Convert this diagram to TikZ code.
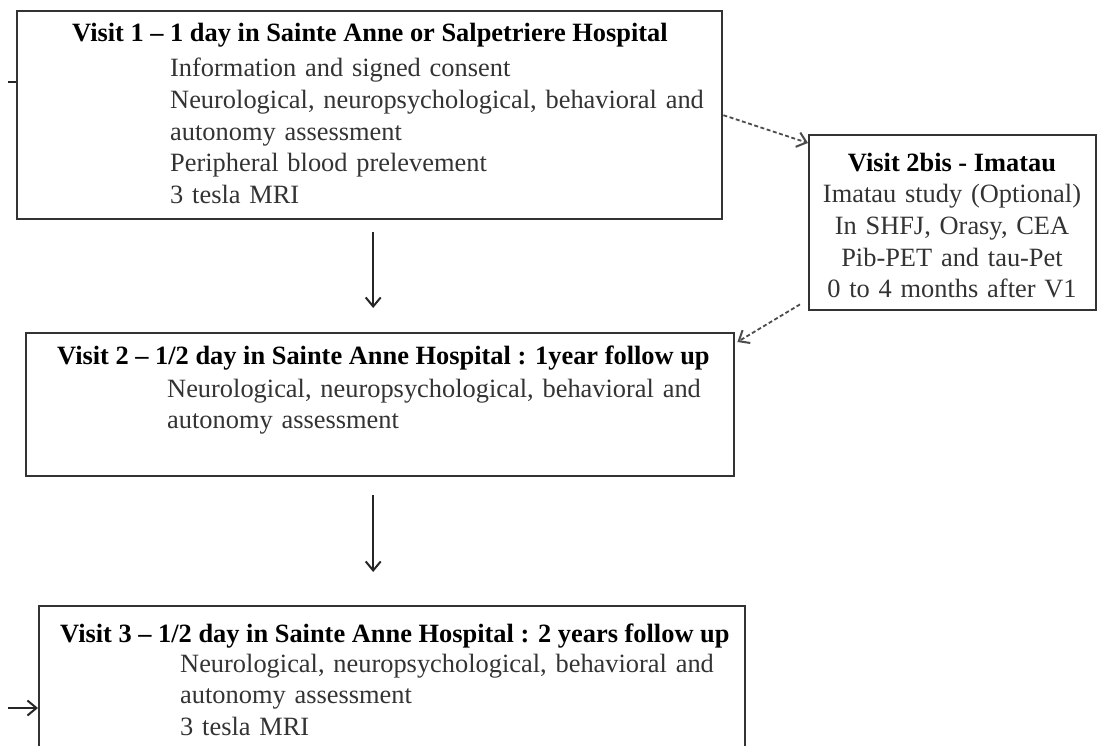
\documentclass[tikz,border=0pt]{standalone}
\usepackage{fontspec}
\setmainfont{Liberation Serif}
\usetikzlibrary{arrows.meta}
\tikzset{
  visitbox/.style={draw=black!80, line width=2.4pt, anchor=north west, inner sep=0pt},
  titleS/.style  ={anchor=base west, inner sep=0pt, font=\fontsize{26.4}{31.6}\selectfont\bfseries},
  bodyS/.style   ={anchor=base west, inner sep=0pt, text width=#1, align=left, text=black!80,
                   font=\fontsize{26.4}{31.6}\selectfont},
  flow/.style    ={draw=black!85, line width=2pt, -{Straight Barb[length=9pt,width=15pt,line width=2pt]}},
  optflow/.style ={flow, draw=black!70, line width=1.8pt, dash pattern=on 4pt off 2.5pt},
}
\begin{document}
\begin{tikzpicture}[x=1pt,y=-1pt]
  \useasboundingbox (0,0) rectangle (1098,746);
  % boxes
  \node[visitbox, minimum width=705pt, minimum height=208pt] (v1) at (16,10) {};
  \node[visitbox, minimum width=287pt, minimum height=175pt] (b2) at (808,134) {};
  \node[visitbox, minimum width=708pt, minimum height=143pt] (v2) at (25,332) {};
  \node[visitbox, minimum width=706pt, minimum height=170pt] (v3) at (38,605) {};
  % visit 1
  \node[titleS] (v1t) at (72,42) {Visit 1 -- 1 day in Sainte Anne or Salpetriere Hospital};
  \node[bodyS=540pt] (v1b) at (170,77) {Information and signed consent\\
    Neurological, neuropsychological, behavioral and\\ autonomy assessment\\
    Peripheral blood prelevement\\ 3 tesla MRI};
  % visit 2bis
  \node[titleS, anchor=base] (b2t) at (952,172) {Visit 2bis - Imatau};
  \node[bodyS=300pt, align=center, anchor=base] (b2b) at (952,203) {Imatau study (Optional)\\
    In SHFJ, Orasy, CEA\\ Pib-PET and tau-Pet\\ 0 to 4 months after V1};
  % visit 2
  \node[titleS] (v2t) at (57,364) {Visit 2 -- 1/2 day in Sainte Anne Hospital : 1year follow up};
  \node[bodyS=540pt] (v2b) at (167,397) {Neurological, neuropsychological, behavioral and\\
    autonomy assessment};
  % visit 3
  \node[titleS] (v3t) at (60,642) {Visit 3 -- 1/2 day in Sainte Anne Hospital : 2 years follow up};
  \node[bodyS=540pt] (v3b) at (180,672) {Neurological, neuropsychological, behavioral and\\
    autonomy assessment\\ 3 tesla MRI};
  % connectors
  \draw[flow, shorten <=12pt, shorten >=24pt] ([xshift=3.5pt]v1.south) -- ([xshift=-7pt]v2.north);
  \draw[flow, shorten <=18pt, shorten >=33pt] ([xshift=-7pt]v2.south) -- ([xshift=-19pt]v3.north);
  \draw[optflow] (v1.east) -- ([yshift=-9pt]b2.north west);
  \draw[optflow] ([xshift=-8pt,yshift=7pt]b2.south west) -- ([xshift=2pt,yshift=-10pt]v2.north east);
  \coordinate (stub1) at (8,82);
  \draw[draw=black!85, line width=2pt] (stub1) -- (stub1 -| v1.west);
  \coordinate (in3) at (8,708);
  \draw[flow] (in3) -- (in3 -| v3.west);
\end{tikzpicture}
\end{document}
